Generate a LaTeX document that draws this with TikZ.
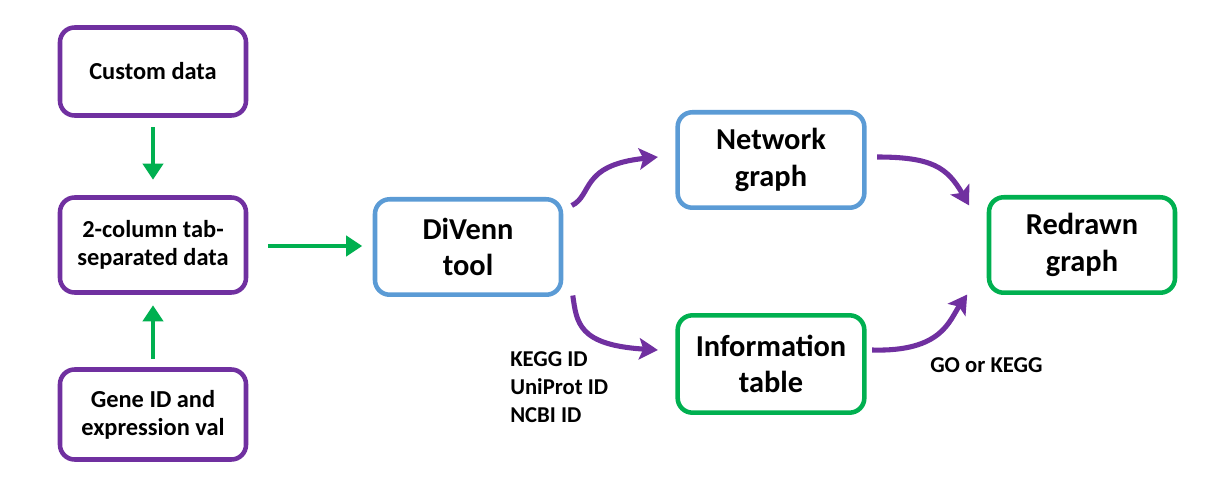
\documentclass[tikz,border=0pt]{standalone}
\usepackage{fontspec}
\setmainfont{Carlito}
\usetikzlibrary{arrows.meta}

\definecolor{dipurple}{HTML}{7030A0}
\definecolor{digreen}{HTML}{00B050}
\definecolor{diblue}{HTML}{5B9BD5}

\begin{document}
\begin{tikzpicture}[x=0.75pt,y=-0.75pt,
  box/.style={draw, line width=3.4pt, rounded corners=11pt, align=center, inner sep=0pt},
  smallbox/.style={box, draw=dipurple, minimum width=139.5pt, minimum height=66pt, font=\bfseries\fontsize{18.3}{21}\selectfont},
  bigbox/.style={box, minimum width=139.5pt, minimum height=71.6pt, font=\bfseries\fontsize{22.8}{27.5}\selectfont},
  greenarrow/.style={draw=digreen, line width=3.6pt, -{Triangle[width=15pt,length=12pt]}},
  purplearrow/.style={draw=dipurple, line width=3.8pt, -{Stealth[width=16pt,length=14pt,inset=3pt]}},
  note/.style={inner sep=0pt, align=left, font=\bfseries\fontsize{17}{21}\selectfont}]

\useasboundingbox (0,0) rectangle (1221,477);

% Input boxes:
\node[smallbox] (custom) at (153,71.5) {Custom data};
\node[smallbox, minimum height=71.25pt] (twocol) at (153,245) {2-column tab-\\separated data};
\node[smallbox, minimum height=67.5pt] (geneid) at (153,414.5) {Gene ID and\\expression val};

% Tool and outputs:
\node[bigbox, draw=diblue] (divenn) at (468,247) {DiVenn\\tool};
\node[bigbox, draw=diblue, minimum width=140pt] (network) at (771,160) {Network\\graph};
\node[bigbox, draw=digreen, minimum width=140pt, minimum height=73pt] (info) at (771,364) {Information\\table};
\node[bigbox, draw=digreen] (redrawn) at (1082,245) {Redrawn\\graph};

% Labels:
\node[note, anchor=west] (ids) at (510,387) {KEGG ID\\UniProt ID\\NCBI ID};
\node[note, anchor=west] (goterm) at (930,365) {GO or KEGG};

% Green arrows:
\draw[greenarrow] ([shift={(0,9.5)}]custom.south) -- ([shift={(0,-15.5)}]twocol.north);
\draw[greenarrow] ([shift={(0,-8.5)}]geneid.north) -- ([shift={(0,10.5)}]twocol.south);
\draw[greenarrow] ([shift={(19.5,1)}]twocol.east) -- ([shift={(-10.5,1)}]twocol.east -| divenn.west);

% Purple curved arrows:
\draw[purplearrow] ([shift={(8.5,8.5)}]divenn.north east)
  .. controls +(21,-10) and +(-78,8) .. ([shift={(-17.5,-3)}]network.west);
\draw[purplearrow] ([shift={(9.5,-1.5)}]divenn.south east)
  .. controls +(4,27) and +(-80,-5) .. ([shift={(-17.5,-14)}]info.west);
\draw[purplearrow] ([shift={(10.5,-3)}]network.east)
  .. controls +(55,0) and +(-22,-38) .. ([shift={(-17.5,10.5)}]redrawn.north west);
\draw[purplearrow] ([shift={(5.5,-14)}]info.east)
  .. controls +(70,2) and +(-18,26) .. ([shift={(-19.5,-0.5)}]redrawn.south west);

\end{tikzpicture}
\end{document}
